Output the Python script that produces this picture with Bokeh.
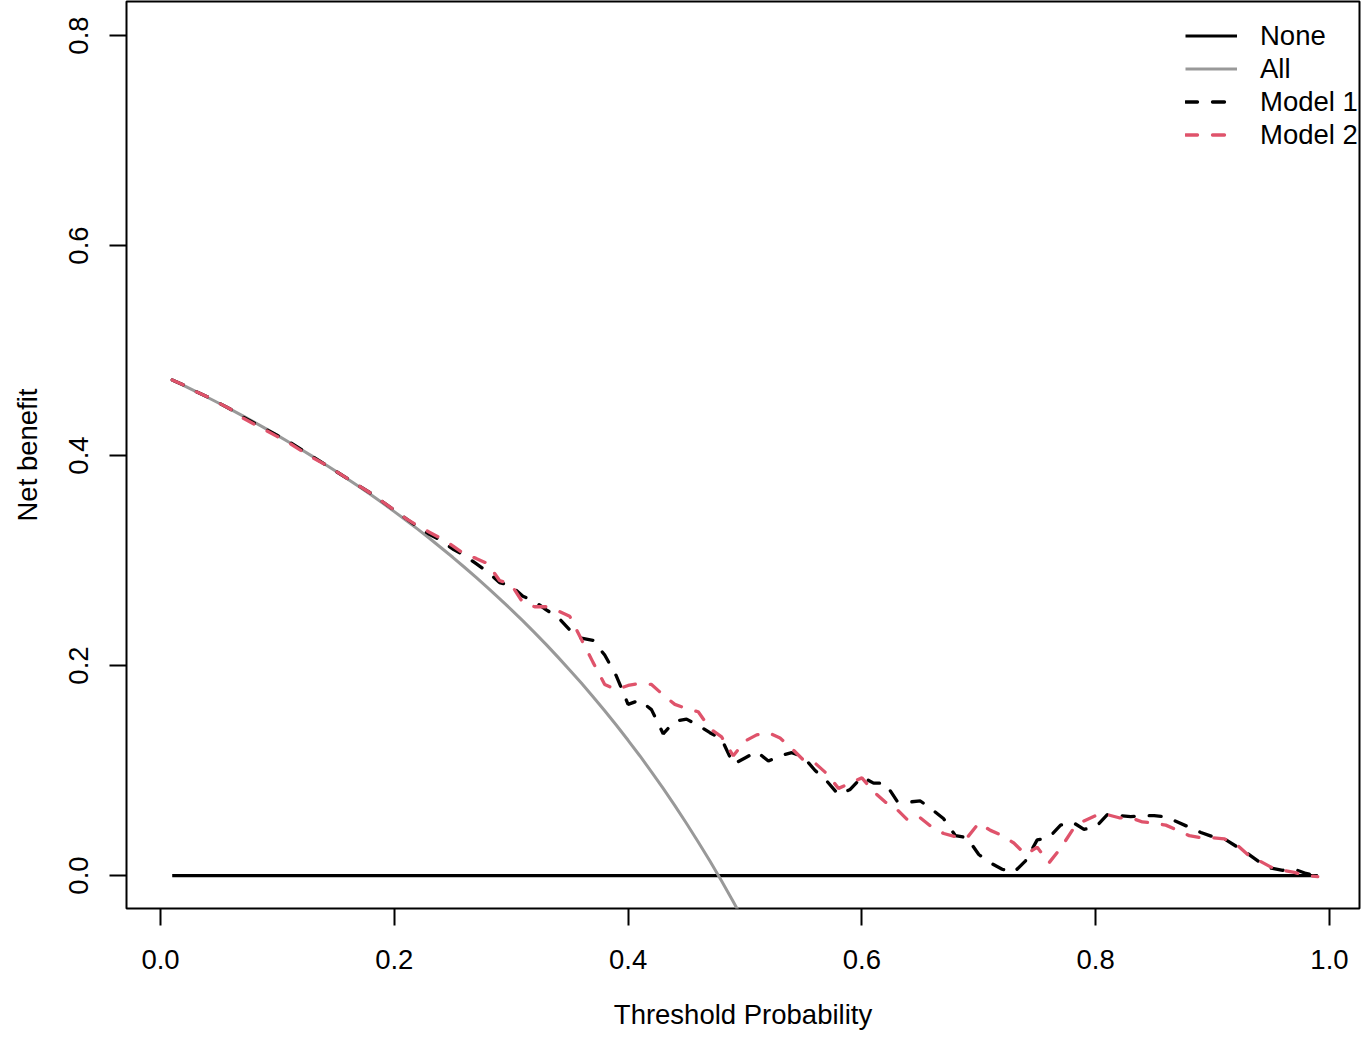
from bokeh.plotting import figure
from bokeh.models import Range1d, FixedTicker, PrintfTickFormatter
from bokeh.embed import file_html
from bokeh.resources import INLINE

threshold = [0.01, 0.02, 0.03, 0.04, 0.05, 0.06, 0.07, 0.08, 0.09, 0.10,
             0.11, 0.12, 0.13, 0.14, 0.15, 0.16, 0.17, 0.18, 0.19, 0.20,
             0.21, 0.22, 0.23, 0.24, 0.25, 0.26, 0.27, 0.28, 0.29, 0.30,
             0.31, 0.32, 0.33, 0.34, 0.35, 0.36, 0.37, 0.38, 0.39, 0.40,
             0.41, 0.42, 0.43, 0.44, 0.45, 0.46, 0.47, 0.48, 0.49, 0.50,
             0.51, 0.52, 0.53, 0.54, 0.55, 0.56, 0.57, 0.58, 0.59, 0.60,
             0.61, 0.62, 0.63, 0.64, 0.65, 0.66, 0.67, 0.68, 0.69, 0.70,
             0.71, 0.72, 0.73, 0.74, 0.75, 0.76, 0.77, 0.78, 0.79, 0.80,
             0.81, 0.82, 0.83, 0.84, 0.85, 0.86, 0.87, 0.88, 0.89, 0.90,
             0.91, 0.92, 0.93, 0.94, 0.95, 0.96, 0.97, 0.98, 0.99]

none_nb = [0.0] * len(threshold)

all_threshold = threshold[:50]
all_nb = [0.4720, 0.4666, 0.4611, 0.4555, 0.4498, 0.4439, 0.4380, 0.4318, 0.4256, 0.4192,
          0.4127, 0.4060, 0.3992, 0.3922, 0.3851, 0.3777, 0.3702, 0.3626, 0.3547, 0.3466,
          0.3384, 0.3299, 0.3212, 0.3122, 0.3031, 0.2936, 0.2840, 0.2740, 0.2638, 0.2533,
          0.2425, 0.2313, 0.2199, 0.2080, 0.1958, 0.1833, 0.1703, 0.1569, 0.1431, 0.1288,
          0.1141, 0.0988, 0.0830, 0.0666, 0.0496, 0.0320, 0.0138, -0.0052, -0.0249, -0.0454]

model1_nb = [0.472, 0.467, 0.461, 0.456, 0.450, 0.444, 0.437, 0.431, 0.425, 0.419,
             0.413, 0.406, 0.399, 0.392, 0.385, 0.378, 0.371, 0.364, 0.356, 0.348,
             0.340, 0.332, 0.325, 0.319, 0.311, 0.305, 0.297, 0.289, 0.279, 0.276,
             0.266, 0.261, 0.253, 0.246, 0.234, 0.226, 0.224, 0.210, 0.190, 0.163,
             0.167, 0.158, 0.135, 0.147, 0.149, 0.143, 0.136, 0.130, 0.106, 0.112,
             0.118, 0.109, 0.114, 0.117, 0.113, 0.100, 0.090, 0.077, 0.082, 0.094,
             0.088, 0.088, 0.071, 0.070, 0.071, 0.063, 0.054, 0.038, 0.036, 0.020,
             0.012, 0.006, 0.003, 0.014, 0.034, 0.036, 0.048, 0.051, 0.044, 0.046,
             0.058, 0.057, 0.056, 0.057, 0.057, 0.056, 0.051, 0.046, 0.041, 0.037,
             0.035, 0.028, 0.021, 0.013, 0.007, 0.005, 0.006, 0.002, 0.000]

model2_nb = [0.472, 0.467, 0.461, 0.456, 0.450, 0.444, 0.436, 0.430, 0.424, 0.418,
             0.412, 0.405, 0.398, 0.392, 0.385, 0.378, 0.371, 0.364, 0.356, 0.348,
             0.340, 0.333, 0.327, 0.321, 0.314, 0.306, 0.302, 0.297, 0.281, 0.277,
             0.260, 0.256, 0.256, 0.252, 0.247, 0.225, 0.203, 0.182, 0.177, 0.181,
             0.183, 0.182, 0.172, 0.163, 0.159, 0.156, 0.140, 0.132, 0.114, 0.128,
             0.134, 0.136, 0.131, 0.121, 0.110, 0.107, 0.097, 0.083, 0.088, 0.093,
             0.080, 0.070, 0.063, 0.052, 0.055, 0.046, 0.040, 0.037, 0.036, 0.050,
             0.043, 0.038, 0.031, 0.020, 0.027, 0.012, 0.026, 0.043, 0.052, 0.057,
             0.058, 0.055, 0.055, 0.051, 0.050, 0.048, 0.043, 0.038, 0.036, 0.036,
             0.035, 0.030, 0.020, 0.014, 0.008, 0.005, 0.003, 0.000, -0.001]

x_ticks = [0.0, 0.2, 0.4, 0.6, 0.8, 1.0]
y_ticks = [0.0, 0.2, 0.4, 0.6, 0.8]

FONT = "Liberation Sans"
FS = "27.5px"

p = figure(width=1364, height=1040, output_backend="svg", toolbar_location=None,
           x_range=Range1d(-0.0291, 1.0257), y_range=Range1d(-0.0314, 0.8324),
           min_border_left=126, min_border_right=5, min_border_top=1, min_border_bottom=132,
           background_fill_color="white", border_fill_color="white")

p.outline_line_color = "black"
p.outline_line_width = 2
p.xgrid.visible = False
p.ygrid.visible = False

for ax in (p.xaxis[0], p.yaxis[0]):
    ax.axis_line_color = None
    ax.major_tick_line_color = "black"
    ax.major_tick_line_width = 2
    ax.major_tick_out = 17
    ax.major_tick_in = 0
    ax.minor_tick_line_color = None
    ax.major_label_text_font = FONT
    ax.major_label_text_font_size = FS
    ax.major_label_text_color = "black"
    ax.axis_label_text_font = FONT
    ax.axis_label_text_font_size = FS
    ax.axis_label_text_font_style = "normal"
    ax.axis_label_text_color = "black"
    ax.formatter = PrintfTickFormatter(format="%.1f")

p.xaxis[0].ticker = FixedTicker(ticks=x_ticks)
p.yaxis[0].ticker = FixedTicker(ticks=y_ticks)
p.xaxis[0].axis_label = "Threshold Probability"
p.yaxis[0].axis_label = "Net benefit"
p.xaxis[0].major_label_standoff = 24
p.xaxis[0].axis_label_standoff = 27
p.yaxis[0].major_label_orientation = "vertical"
p.yaxis[0].major_label_standoff = 21
p.yaxis[0].axis_label_standoff = 24

p.line(threshold, none_nb, line_color="black", line_width=3.2, legend_label="None")
p.line(all_threshold, all_nb, line_color="#999999", line_width=3, legend_label="All")
p.line(threshold, model1_nb, line_color="black", line_width=3.3, line_dash="12 15",
       line_cap="round", legend_label="Model 1")
p.line(threshold, model2_nb, line_color="#DF536B", line_width=3.3, line_dash="12 15",
       line_cap="round", legend_label="Model 2")

lg = p.legend[0]
lg.location = (1057, 755)
lg.background_fill_alpha = 0
lg.border_line_alpha = 0
lg.padding = 2
lg.margin = 0
lg.spacing = 0
lg.glyph_width = 52
lg.glyph_height = 33
lg.label_height = 33
lg.label_standoff = 23
lg.label_text_font = FONT
lg.label_text_font_size = FS
lg.label_text_color = "black"

open("out.html", "w").write(file_html(p, INLINE))
